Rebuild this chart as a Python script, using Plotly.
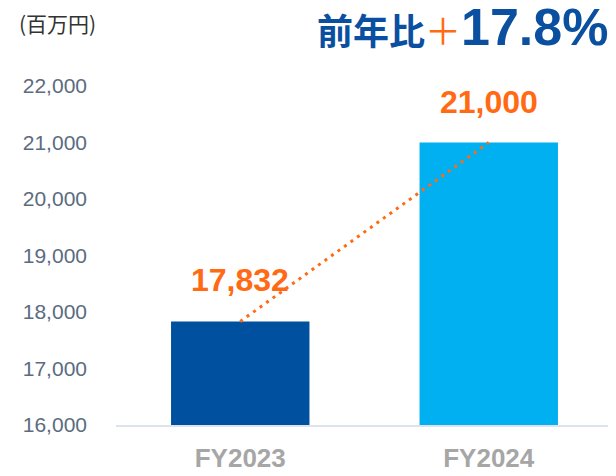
import plotly.graph_objects as go

categories = ["FY2023", "FY2024"]
values = [17832, 21000]
bar_colors = ["#0050A0", "#00B0F0"]
value_labels = ["17,832", "21,000"]
y_ticks = [16000, 17000, 18000, 19000, 20000, 21000, 22000]
y_tick_labels = ["16,000", "17,000", "18,000", "19,000", "20,000", "21,000", "22,000"]
unit_label = "(百万円)"
growth_prefix = "前年比"
growth_plus = "＋"
growth_value = "17.8%"

ORANGE = "#FF6A13"
NAVY = "#0A4FA0"

# page body has an 8px default margin; work in page pixels and offset
OFF = 8
W, H = 616 - OFF, 476 - OFF
L, R, T, B = 116 - OFF, 3, 86 - OFF, 49
pw = W - L - R
ph = H - T - B

def px(x):
    return (x - OFF - L) / pw

def py(y):
    return (H - B - (y - OFF)) / ph

fig = go.Figure()
fig.add_trace(go.Bar(
    x=categories, y=values, marker_color=bar_colors, width=0.557,
    marker_line_width=0, showlegend=False, hoverinfo="skip",
))
fig.add_trace(go.Scatter(
    x=categories, y=values, mode="lines",
    line=dict(color=ORANGE, width=3, dash="3px,5px"),
    showlegend=False, hoverinfo="skip",
))

for c, v, t in zip(categories, values, value_labels):
    fig.add_annotation(
        x=c, y=v, xref="x", yref="y", text=t, showarrow=False,
        xanchor="center", yanchor="bottom", yshift=21,
        font=dict(family="Liberation Sans, Arial", size=32, color=ORANGE, weight="bold"),
    )

fig.add_annotation(
    x=px(57), y=py(23), xref="paper", yref="paper", text=unit_label,
    showarrow=False, xanchor="center", yanchor="middle",
    font=dict(family="Noto Sans CJK JP", size=21, color="#333333"),
)

title_text = (
    f"<b>{growth_prefix}</b>"
    f"<span style='color:{ORANGE}; font-weight:normal'>{growth_plus}</span>"
    f"<span style='font-family:Liberation Sans, Arial; font-size:52px'><b>{growth_value}</b></span>"
)
fig.add_annotation(
    x=px(610), y=py(58), xref="paper", yref="paper", text=title_text,
    showarrow=False, xanchor="right", yanchor="bottom",
    font=dict(family="Noto Sans CJK JP", size=36, color=NAVY),
)

fig.update_layout(
    width=W, height=H, autosize=False,
    margin=dict(l=L, r=R, t=T, b=B, pad=0),
    plot_bgcolor="white", paper_bgcolor="white",
    xaxis=dict(
        type="category", range=[-0.5, 1.5], showgrid=False, zeroline=False,
        showline=True, linecolor="#DCE3EC", linewidth=2, ticks="",
        tickfont=dict(family="Liberation Sans, Arial", size=26, color="#A6A6A6", weight="bold"),
        ticklabelstandoff=9,
    ),
    yaxis=dict(
        range=[16000, 22000], tickvals=y_ticks, ticktext=y_tick_labels,
        showgrid=False, zeroline=False, showline=False, ticks="",
        tickfont=dict(family="Liberation Sans, Arial", size=21, color="#5B6B80"),
        ticklabelstandoff=28,
    ),
)

fig.write_html("out.html")
